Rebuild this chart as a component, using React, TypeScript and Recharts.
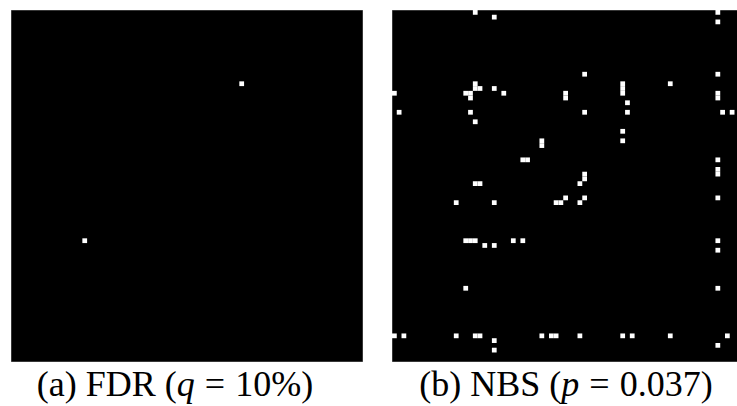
import React from "react";
import { ScatterChart, Scatter, XAxis, YAxis, ReferenceArea } from "recharts";

// Connectivity matrices: 74 x 74 regions, significant cells as [row, col]
const GRID_SIZE = 74;
const regionTicks = [0, GRID_SIZE];

const fdrCells: [number, number][] = [
  [15, 48],
  [48, 15],
];

const nbsCells: [number, number][] = [
  [0, 17], [0, 68],
  [1, 21],
  [2, 68],
  [13, 40], [13, 68],
  [15, 17], [15, 48], [15, 58],
  [16, 17], [16, 18], [16, 21], [16, 48],
  [17, 0], [17, 15], [17, 16], [17, 23], [17, 36], [17, 48], [17, 68],
  [18, 16], [18, 36], [18, 68],
  [19, 49],
  [21, 1], [21, 16], [21, 40], [21, 49], [21, 69], [21, 71],
  [23, 17],
  [25, 48],
  [27, 31], [27, 48],
  [28, 31],
  [31, 27], [31, 28], [31, 68],
  [33, 68],
  [34, 40], [34, 68],
  [35, 40],
  [36, 17], [36, 18], [36, 39],
  [39, 36], [39, 40], [39, 68],
  [40, 13], [40, 21], [40, 34], [40, 35], [40, 39],
  [48, 15], [48, 16], [48, 17], [48, 25], [48, 27], [48, 68],
  [49, 19], [49, 21],
  [50, 68],
  [58, 15], [58, 68],
  [68, 0], [68, 2], [68, 13], [68, 17], [68, 18], [68, 31], [68, 33], [68, 34],
  [68, 39], [68, 48], [68, 50], [68, 58], [68, 70],
  [69, 21],
  [70, 68],
  [71, 21],
];

const PANEL = 352;
const SERIF = "'Liberation Serif', 'Times New Roman', serif";

const Empty = () => <g />;

function MatrixPanel({ cells }: { cells: [number, number][] }) {
  const data = cells.map(([r, c]) => ({ x: c + 0.5, y: r + 0.5 }));
  return (
    <ScatterChart
      width={PANEL}
      height={PANEL}
      margin={{ top: 0, right: 0, bottom: 0, left: 0 }}
    >
      <XAxis type="number" dataKey="x" domain={[0, GRID_SIZE]} ticks={regionTicks} hide />
      <YAxis type="number" dataKey="y" domain={[0, GRID_SIZE]} ticks={regionTicks} reversed hide />
      <ReferenceArea
        x1={0}
        x2={GRID_SIZE}
        y1={0}
        y2={GRID_SIZE}
        fill="#000"
        fillOpacity={1}
        stroke="#8a8a8a"
        strokeWidth={0.8}
      />
      {cells.map(([r, c]) => (
        <ReferenceArea
          key={`${r}-${c}`}
          x1={c}
          x2={c + 1}
          y1={r}
          y2={r + 1}
          fill="#fff"
          fillOpacity={1}
          stroke="none"
        />
      ))}
      <Scatter data={data} shape={Empty} isAnimationActive={false} />
    </ScatterChart>
  );
}

const captionStyle: React.CSSProperties = {
  position: "absolute",
  fontFamily: SERIF,
  fontSize: 36,
  lineHeight: "36px",
  color: "#000",
  whiteSpace: "nowrap",
  textAlign: "center",
  width: 400,
};

const mathSpace: React.CSSProperties = { margin: "0 1px" };

export default function App() {
  return (
    <div
      style={{
        position: "fixed",
        left: 0,
        top: 0,
        width: 737,
        height: 406,
        overflow: "hidden",
        background: "#fff",
      }}
    >
      <div style={{ position: "absolute", left: 11, top: 10 }}>
        <MatrixPanel cells={fdrCells} />
      </div>
      <div style={{ position: "absolute", left: 392, top: 10 }}>
        <MatrixPanel cells={nbsCells} />
      </div>
      <div style={{ ...captionStyle, left: 175 - 200, top: 366 }}>
        (a) FDR (<i>q</i>&nbsp;<span style={mathSpace}>=</span>&nbsp;10%)
      </div>
      <div style={{ ...captionStyle, left: 566 - 200, top: 366 }}>
        (b) NBS (<i>p</i>&nbsp;<span style={mathSpace}>=</span>&nbsp;0.037)
      </div>
    </div>
  );
}
